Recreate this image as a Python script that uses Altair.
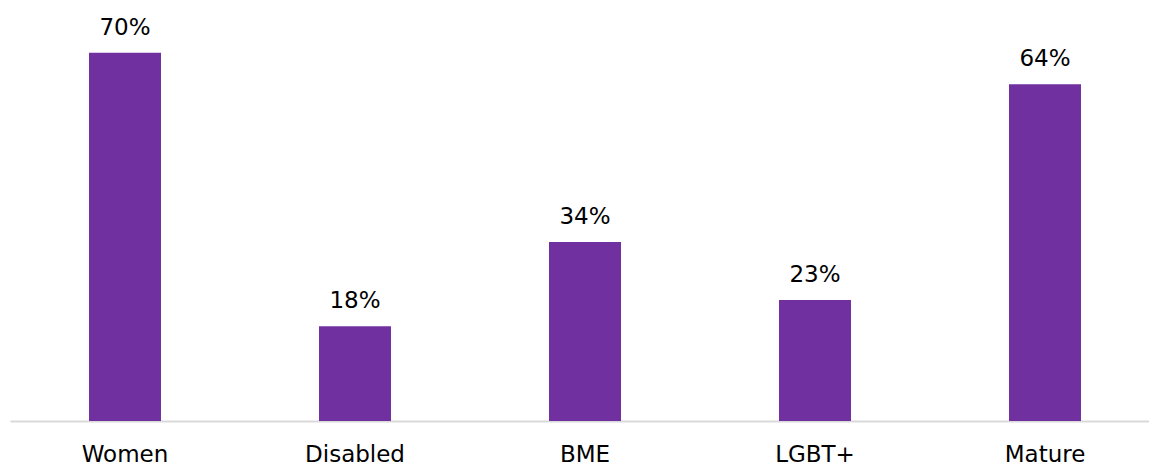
import altair as alt
import pandas as pd

# Share of each group, in percent
categories = ["Women", "Disabled", "BME", "LGBT+", "Mature"]
values = [70, 18, 34, 23, 64]
labels = ["70%", "18%", "34%", "23%", "64%"]

df = pd.DataFrame({"group": categories, "share": values, "label": labels})

FONT = "DejaVu Sans"
PURPLE = "#7030A0"

x_enc = alt.X(
    "group:N",
    sort=categories,
    title=None,
    scale=alt.Scale(range=[0, 1150], paddingInner=0.687, paddingOuter=0.3435),
    axis=alt.Axis(
        labelAngle=0,
        labelFont=FONT,
        labelFontSize=23,
        labelColor="#000000",
        labelPadding=22,
        ticks=False,
        tickSize=0,
        domainColor="#d9d9d9",
        domainWidth=2,
        grid=False,
    ),
)

y_enc = alt.Y(
    "share:Q",
    scale=alt.Scale(domain=[0, 80], nice=False),
    axis=None,
)

bars = alt.Chart(df).mark_bar(color=PURPLE).encode(x=x_enc, y=y_enc)

text = alt.Chart(df).mark_text(
    font=FONT,
    fontSize=23,
    color="#000000",
    baseline="alphabetic",
    dy=-18,
).encode(x=x_enc, y=y_enc, text="label:N")

chart = (
    alt.layer(bars, text)
    .properties(
        width=1139,
        height=421,
        autosize=alt.AutoSizeParams(type="none"),
        padding={"left": 10, "top": 0, "right": 0, "bottom": 45},
        background="#ffffff",
    )
    .configure_view(stroke=None)
)

chart.save("out.html", embed_options={"renderer": "svg", "actions": False})
